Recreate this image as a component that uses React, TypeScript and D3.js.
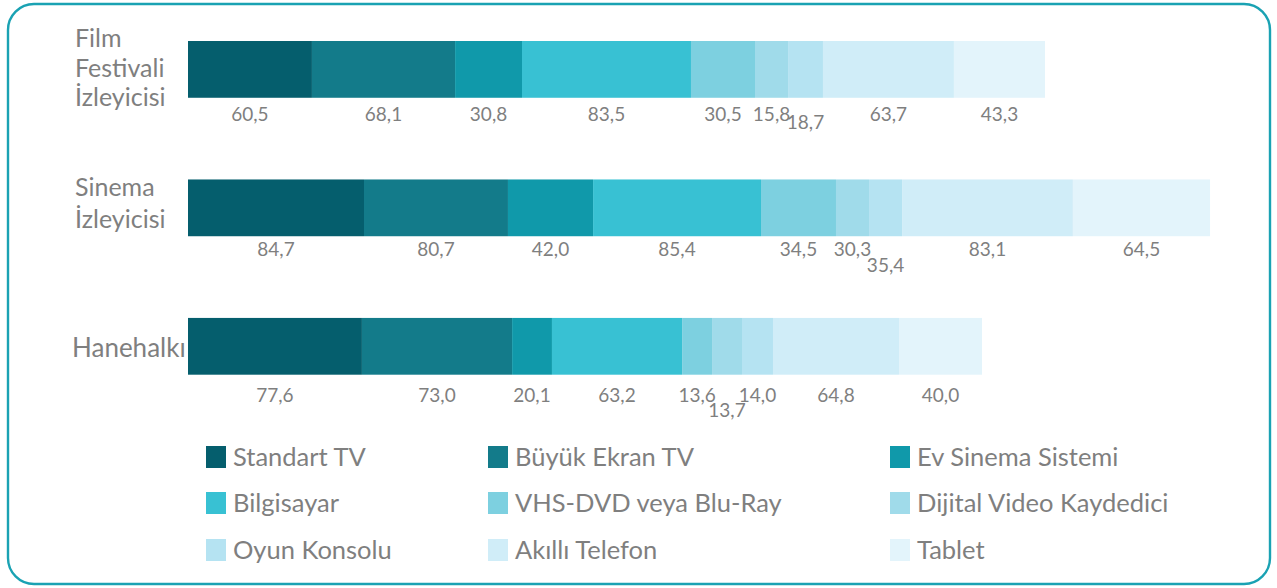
import React from "react";
import * as d3 from "d3";

const categories = ["Film Festivali İzleyicisi", "Sinema İzleyicisi", "Hanehalkı"];
const categoryLines = [["Film", "Festivali", "İzleyicisi"], ["Sinema", "İzleyicisi"], ["Hanehalkı"]];

const seriesNames = [
  "Standart TV",
  "Büyük Ekran TV",
  "Ev Sinema Sistemi",
  "Bilgisayar",
  "VHS-DVD veya Blu-Ray",
  "Dijital Video Kaydedici",
  "Oyun Konsolu",
  "Akıllı Telefon",
  "Tablet",
];

// Data labels as printed on the chart
const filmLabels = [60.5, 68.1, 30.8, 83.5, 30.5, 15.8, 18.7, 63.7, 43.3];
const sinemaLabels = [84.7, 80.7, 42.0, 85.4, 34.5, 30.3, 35.4, 83.1, 64.5];
const haneLabels = [77.6, 73.0, 20.1, 63.2, 13.6, 13.7, 14.0, 64.8, 40.0];

// Segment lengths as drawn in the picture (same units as the labels)
const filmBars = [60.0, 69.3, 32.4, 81.8, 31.0, 16.0, 16.9, 63.4, 44.1];
const sinemaBars = [85.2, 69.7, 41.2, 81.3, 36.3, 16.0, 16.0, 82.7, 66.4];
const haneBars = [84.2, 72.7, 19.3, 63.0, 14.5, 14.5, 15.0, 61.0, 40.2];

const colors = ["#055e6d", "#137b8a", "#1099aa", "#38c1d3", "#7dd0e0", "#a0dbea", "#b5e3f2", "#d0edf8", "#e3f4fb"];

const rowsBars = [filmBars, sinemaBars, haneBars];
const rowsLabels = [filmLabels, sinemaLabels, haneLabels];

const W = 1277;
const H = 588;
const FONT = "Lato, 'Open Sans', sans-serif";
const GRAY = "#7f7f7f";

// layout (not data)
const labelOffset = [23, 20, 27];
const staggerIdx = [6, 6, 5];
const staggerExtra = [8, 16, 15];
const catLabelBaseline = [[47, 77, 106], [196, 228], [357]];
const catLabelX = [75, 75, 72];

export default function App() {
  const x = d3.scaleLinear().domain([0, 500]).range([188, 188 + 2.0656 * 500]);
  const y = d3
    .scaleBand<string>()
    .domain(categories)
    .range([41, 374.7])
    .paddingInner(0.59)
    .paddingOuter(0);
  const fmt = (v: number) => v.toFixed(1).replace(".", ",");

  const legendCols = [206, 488, 890];
  const legendRows = [457, 503, 550];

  return (
    <svg
      width={W}
      height={H}
      style={{ position: "absolute", left: 0, top: 0, background: "#fff" }}
      fontFamily={FONT}
    >
      <rect x={8} y={4} width={1262} height={580} rx={26} ry={26} fill="#fff" stroke="#1aa2b3" strokeWidth={2.4} />
      {categories.map((cat, ri) => {
        const bars = rowsBars[ri];
        const labels = rowsLabels[ri];
        const stacked = d3.cumsum(bars);
        const y0 = y(cat) as number;
        const bw = y.bandwidth();
        return (
          <g key={cat}>
            {categoryLines[ri].map((ln, li) => (
              <text key={li} x={catLabelX[ri]} y={catLabelBaseline[ri][li]} fill={GRAY} fontSize={ri === 2 ? 26 : 25}>
                {ln}
              </text>
            ))}
            {bars.map((v, si) => {
              const start = si === 0 ? 0 : stacked[si - 1];
              const end = stacked[si];
              return (
                <rect
                  key={si}
                  x={x(start)}
                  y={y0}
                  width={x(end) - x(start)}
                  height={bw}
                  fill={colors[si]}
                />
              );
            })}
            {bars.map((v, si) => {
              const start = si === 0 ? 0 : stacked[si - 1];
              const end = stacked[si];
              const cx = (x(start) + x(end)) / 2;
              const by = y0 + bw + labelOffset[ri] + (si === staggerIdx[ri] ? staggerExtra[ri] : 0);
              return (
                <text key={"l" + si} x={cx} y={by} fill={GRAY} fontSize={19} textAnchor="middle">
                  {fmt(labels[si])}
                </text>
              );
            })}
          </g>
        );
      })}
      {seriesNames.map((name, i) => {
        const cx = legendCols[i % 3];
        const cy = legendRows[Math.floor(i / 3)];
        return (
          <g key={name}>
            <rect x={cx} y={cy - 11} width={20} height={22} fill={colors[i]} />
            <text x={cx + 27} y={cy + 9} fill={GRAY} fontSize={25.5}>
              {name}
            </text>
          </g>
        );
      })}
    </svg>
  );
}
